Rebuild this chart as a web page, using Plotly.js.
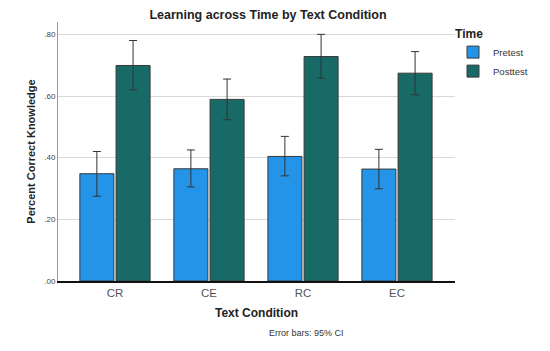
<!DOCTYPE html>
<html>
<head>
<meta charset="utf-8">
<script src="https://cdn.plot.ly/plotly-3.0.1.min.js"></script>
<style>html,body{margin:0;padding:0;background:#fff;}#chart{width:550px;height:351px;}</style>
</head>
<body>
<div id="chart"></div>
<script>
const categories = ['CR', 'CE', 'RC', 'EC'];
const pretest = [0.348, 0.364, 0.404, 0.363];
const pretestUpper = [0.420, 0.425, 0.469, 0.427];
const pretestLower = [0.275, 0.305, 0.341, 0.299];
const posttest = [0.699, 0.589, 0.728, 0.674];
const posttestUpper = [0.780, 0.655, 0.800, 0.744];
const posttestLower = [0.620, 0.523, 0.658, 0.604];
const yTickVals = [0, 0.2, 0.4, 0.6, 0.8];
const yTickText = ['.00', '.20', '.40', '.60', '.80'];

const plus = (up, v) => up.map((u, i) => u - v[i]);
const minus = (lo, v) => v.map((x, i) => x - lo[i]);

const errStyle = {type: 'data', symmetric: false, color: '#333333', thickness: 1, width: 4};

const traces = [
  {
    type: 'bar', name: 'Pretest', x: categories, y: pretest,
    marker: {color: '#2394e8', line: {color: '#3a3a3a', width: 1}},
    error_y: Object.assign({array: plus(pretestUpper, pretest), arrayminus: minus(pretestLower, pretest)}, errStyle)
  },
  {
    type: 'bar', name: 'Posttest', x: categories, y: posttest,
    marker: {color: '#186a67', line: {color: '#3a3a3a', width: 1}},
    error_y: Object.assign({array: plus(posttestUpper, posttest), arrayminus: minus(posttestLower, posttest)}, errStyle)
  }
];

const layout = {
  width: 550, height: 351,
  margin: {l: 58, r: 95, t: 22, b: 70},
  paper_bgcolor: '#ffffff', plot_bgcolor: '#ffffff',
  font: {family: 'Liberation Sans, Arial, sans-serif', color: '#222'},
  title: {
    text: 'Learning across Time by Text Condition',
    font: {size: 12.5, color: '#222', weight: 'bold'},
    x: 0.529, xanchor: 'center', xref: 'paper',
    y: 0.957, yanchor: 'middle', yref: 'container'
  },
  barmode: 'group', bargap: 0.23, bargroupgap: 0.06,
  xaxis: {
    type: 'category', range: [-0.606, 3.617],
    showline: true, linecolor: '#111', linewidth: 2,
    ticks: '', tickfont: {size: 11.5, color: '#555'},
    showgrid: false, zeroline: false,
    title: {text: 'Text Condition', font: {size: 12, color: '#222', weight: 'bold'}, standoff: 11}
  },
  yaxis: {
    range: [0, 0.84],
    tickvals: yTickVals, ticktext: yTickText,
    tickfont: {size: 8, color: '#444'},
    showline: true, linecolor: '#999', linewidth: 1,
    showgrid: true, gridcolor: '#d9d9d9', gridwidth: 1,
    zeroline: false, ticks: '',
    title: {text: 'Percent Correct Knowledge', font: {size: 11, color: '#222', weight: 'bold'}, standoff: 6}
  },
  legend: {
    x: 0.995, xanchor: 'left', y: 1.0, yanchor: 'top',
    title: {text: 'Time', font: {size: 12, color: '#222', weight: 'bold'}},
    font: {size: 9.5, color: '#333'},
    itemwidth: 30, tracegroupgap: 0, bgcolor: 'rgba(0,0,0,0)'
  },
  annotations: [
    {text: 'Error bars: 95% CI', xref: 'paper', yref: 'paper', x: 0.627, y: -0.2,
     xanchor: 'center', yanchor: 'middle', showarrow: false, font: {size: 9, color: '#333'}}
  ]
};

Plotly.newPlot('chart', traces, layout, {displayModeBar: false, staticPlot: true});
</script>
</body>
</html>
